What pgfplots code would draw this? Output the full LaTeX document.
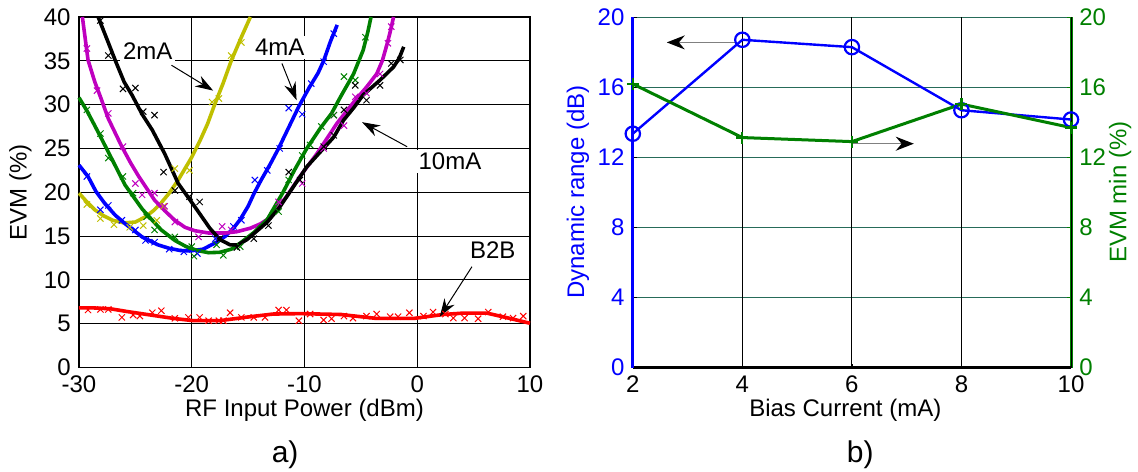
\documentclass[border=0pt]{standalone}
\usepackage{fontspec}
\setmainfont{Liberation Sans}
\usepackage{pgfplots}
\pgfplotsset{compat=1.18}
\usetikzlibrary{arrows.meta}
\definecolor{mgreen}{rgb}{0,0.5,0}
\definecolor{myellow}{rgb}{0.75,0.75,0}
\definecolor{mmag}{rgb}{0.75,0,0.75}
\definecolor{gridteal}{rgb}{0.15,0.42,0.35}
\begin{document}
\fontsize{12}{14}\selectfont
\begin{tikzpicture}
\path[use as bounding box] (0pt,0pt) rectangle (569pt,235.5pt);
% ---------------- a) ----------------
\begin{axis}[
  at={(39.5pt,51.75pt)}, anchor=south west,
  scale only axis, width=225.5pt, height=175.25pt,
  xmin=-30, xmax=10, ymin=0, ymax=40,
  xtick={-30,-20,...,10}, ytick={0,5,...,40},
  grid=major, major grid style={black, line width=0.5pt},
  axis line style={black, line width=0.7pt},
  tick align=inside, major tick length=0pt,
  /pgf/number format/assume math mode=true,
  tick label style={font=\fontsize{12}{14}\selectfont},
  label style={font=\fontsize{12}{14}\selectfont},
  xlabel={RF Input Power (dBm)}, ylabel={EVM (\%)},
  every axis x label/.style={at={(axis description cs:0.5,0)}, anchor=center, yshift=-21.5pt},
  every axis y label/.style={at={(axis description cs:-0.13,0.5)}, rotate=90, anchor=center},
  clip=false,
]
% 2mA yellow
\addplot[myellow, line width=1.8pt, line join=round] coordinates {
(-30,19.9) (-29.3,18.9) (-28.6,18.0) (-27.8,17.3) (-27,16.8) (-26,16.5) (-25,16.6) (-24.1,17.2) (-23.4,17.9) (-22.7,18.8) (-22,19.9) (-21.2,21.4) (-20.6,22.7) (-20,24.0) (-19.3,25.8) (-18.6,27.8) (-18,29.9) (-17.2,32.5) (-16.5,35.0) (-15.6,37.7) (-14.8,40)};
\addplot[myellow, only marks, mark=x, mark size=2.2pt, line width=0.5pt] coordinates {
(-29.3,18.6) (-28.1,17.0) (-26.9,16.3) (-25.5,16.0) (-24.3,16.2) (-23.1,16.8) (-22.5,18.4) (-21.5,22.7) (-20.2,22.5) (-18.2,30.3) (-17.6,30.7) (-16.5,35.6) (-15.6,37.1)};
% 4mA blue
\addplot[blue, line width=1.8pt, line join=round] coordinates {
(-30,23.1) (-29.2,21.8) (-28.5,20.1) (-27.7,18.7) (-26.8,17.4) (-25.9,16.4) (-25,15.5) (-24.4,14.9) (-23,14.0) (-22,13.6) (-21,13.35) (-20.2,13.3) (-19,13.5) (-17.8,14.3) (-17,15.0) (-16.3,15.9) (-15.7,16.9) (-15,18.4) (-14.5,19.8) (-13.8,21.5) (-13,23.3) (-12.3,25.0) (-11.4,27.4) (-10.5,29.8) (-9.6,31.9) (-8.8,33.6) (-8.3,35.0) (-7.7,37.2) (-7.1,39.1)};
\addplot[blue, only marks, mark=x, mark size=2.2pt, line width=0.5pt] coordinates {
(-29.3,21.8) (-28.1,18.0) (-27.4,18.5) (-26.2,16.8) (-25.0,15.7) (-24.1,14.5) (-23.3,14.3) (-22.0,13.5) (-20.7,13.2) (-19.5,13.0) (-17.9,14.7) (-16.3,16.1) (-15.6,16.8) (-14.4,21.4) (-13.3,22.5) (-12.2,25.0) (-11.4,29.6) (-10.2,28.9) (-9.4,32.4) (-8.3,34.9) (-7.4,38.1)};
% 8mA magenta
\addplot[mmag, line width=1.8pt, line join=round] coordinates {
(-29.7,40) (-29.2,35.1) (-28.6,32.6) (-28.1,30.9) (-27.4,28.4) (-26.2,25.2) (-25.4,23.3) (-24.7,21.8) (-23.3,19.1) (-22.4,17.9) (-21.5,16.8) (-20.6,16.0) (-19.7,15.6) (-18.5,15.35) (-17,15.35) (-16,15.5) (-14.8,15.9) (-13.9,16.4) (-13.3,16.9) (-12.5,18.0) (-11.6,19.5) (-10.4,21.8) (-8.9,24.4) (-7.1,27.9) (-5.5,30.5) (-4.5,32.0) (-3.6,33.5) (-3.1,35.0) (-2.7,36.8) (-2.4,38.3) (-2.1,40)};
\addplot[mmag, only marks, mark=x, mark size=2.2pt, line width=0.5pt] coordinates {
(-29.3,36.4) (-28.4,31.6) (-27.4,29.0) (-26.1,25.2) (-25.0,21.0) (-24.4,19.7) (-23.3,19.9) (-22.4,18.4) (-21.5,16.6) (-19.4,14.9) (-17.3,16.1) (-16.5,15.7) (-12.3,18.9) (-10.2,21.0) (-8.3,25.0) (-7.4,28.8) (-6.5,27.6) (-5.5,30.9) (-4.5,31.3) (-3.3,33.5) (-2.6,37.0) (-2.3,38.9)};
% 6mA green
\addplot[mgreen, line width=1.8pt, line join=round] coordinates {
(-30,30.8) (-29.3,29.3) (-28.6,27.6) (-27.4,24.6) (-26.5,22.3) (-25.9,20.8) (-24.9,19.0) (-24.4,18.1) (-23.5,16.8) (-22.7,15.7) (-21.5,14.5) (-20.5,13.8) (-19.5,13.35) (-18.5,13.1) (-17.5,13.15) (-16.5,13.5) (-15.7,14.2) (-14.5,15.4) (-13.3,16.9) (-11.9,20.0) (-10.9,22.5) (-9.8,25.0) (-8.6,27.3) (-7.6,29.0) (-6.8,30.9) (-5.65,33.5) (-4.8,36.2) (-4.4,38.2) (-4.1,40)};
\addplot[mgreen, only marks, mark=x, mark size=2.2pt, line width=0.5pt] coordinates {
(-29.3,29.4) (-28.1,26.7) (-27.4,23.9) (-26.1,21.8) (-25.2,19.9) (-24.0,17.2) (-23.3,15.7) (-21.5,14.9) (-20.0,13.8) (-19.8,12.7) (-17.8,14.0) (-17.2,12.8) (-15.7,13.8) (-12.3,17.8) (-11.4,21.4) (-10.2,24.2) (-9.5,25.4) (-8.5,27.5) (-7.4,28.8) (-6.5,33.2) (-5.5,32.8) (-4.6,37.7)};
% 10mA black
\addplot[black, line width=1.8pt, line join=round] coordinates {
(-28.3,40) (-27.5,37.4) (-26.8,35.1) (-26,32.6) (-25.3,31.1) (-24.4,28.9) (-23.5,27.1) (-22.4,24.4) (-21.2,21.0) (-19.7,18.3) (-18.4,15.9) (-17.5,14.6) (-16.6,14.0) (-15.9,14.0) (-15.1,14.6) (-14.2,15.6) (-13.3,16.6) (-12.2,18.3) (-11.0,20.6) (-9.8,22.9) (-8.6,24.6) (-7.4,26.3) (-6.55,28.2) (-5.6,29.7) (-4.8,31.1) (-3.3,32.8) (-2.1,34.3) (-1.6,35.3) (-1.2,36.6)};
\addplot[black, only marks, mark=x, mark size=2.2pt, line width=0.5pt] coordinates {
(-28.1,39.6) (-27.4,35.6) (-26.1,31.8) (-25.0,31.9) (-24.3,29.2) (-23.3,28.8) (-22.5,22.3) (-21.5,20.2) (-20.2,19.5) (-19.3,18.9) (-17.5,14.7) (-16.0,13.7) (-14.5,14.7) (-13.2,16.2) (-11.4,22.3) (-10.4,21.4) (-8.3,25.2) (-7.4,26.5) (-6.5,29.4) (-5.5,32.2) (-4.5,30.5) (-3.3,32.2) (-2.3,34.7) (-1.5,35.1)};
% B2B red
\addplot[red, line width=1.8pt, line join=round] coordinates {
(-30,6.8) (-28.7,6.8) (-27.2,6.7) (-25.8,6.4) (-23.7,6.0) (-21.6,5.6) (-19.9,5.35) (-17.5,5.35) (-15.1,5.75) (-12.8,6.1) (-10.4,6.15) (-6.8,6.05) (-3.6,5.6) (-0.3,5.6) (2.3,6.05) (4,6.2) (6.2,6.2) (7.9,5.7) (10,5.05)};
\addplot[red, only marks, mark=x, mark size=2.2pt, line width=0.5pt] coordinates {
(-29.2,6.56) (-28.1,6.63) (-27.4,6.63) (-26.2,5.72) (-25.2,5.99) (-24.6,5.87) (-23.5,6.25) (-22.7,6.48) (-21.5,5.61) (-20.3,5.72) (-19.3,5.72) (-18.5,5.34) (-17.6,5.34) (-17.2,5.34) (-16.6,6.25) (-15.6,5.72) (-14.5,5.72) (-13.5,5.72) (-12.3,6.56) (-11.6,6.56) (-10.5,5.34) (-9.5,6.10) (-8.3,5.42) (-7.6,5.57) (-6.5,5.87) (-5.7,5.64) (-4.5,5.87) (-3.6,6.10) (-2.4,5.80) (-1.7,5.80) (-0.7,6.25) (0.55,5.87) (1.4,6.33) (2.5,6.10) (3.2,5.64) (4.2,5.64) (5.4,5.57) (6.3,6.33) (7.6,5.80) (8.5,5.64) (9.4,5.87)};
% annotations
\draw[black, line width=0.5pt, -{Stealth[length=9pt,width=6pt]}] (axis cs:-21.8,34.5) -- (axis cs:-18.1,31.6);
\node[fill=white, inner sep=1.5pt, font=\fontsize{12}{14}\selectfont] at (axis cs:-23.9,36.1) {2mA};
\draw[black, line width=0.5pt, -{Stealth[length=9pt,width=6pt]}] (axis cs:-12.0,34.7) -- (axis cs:-10.7,30.5);
\node[fill=white, inner sep=1.5pt, font=\fontsize{12}{14}\selectfont] at (axis cs:-12.2,36.5) {4mA};
\draw[black, line width=0.5pt, -{Stealth[length=9pt,width=6pt]}] (axis cs:-0.9,25.2) -- (axis cs:-4.9,28.0);
\node[fill=white, inner sep=1.5pt, font=\fontsize{12}{14}\selectfont] at (axis cs:2.9,23.5) {10mA};
\draw[black, line width=0.5pt, -{Stealth[length=9pt,width=6pt]}] (axis cs:4.85,11.5) -- (axis cs:2.0,5.8);
\node[fill=white, inner sep=1.5pt, font=\fontsize{12}{14}\selectfont] at (axis cs:6.7,13.4) {B2B};
\node[font=\fontsize{15}{17}\selectfont] at (axis description cs:0.457,-0.25) {a)};
\end{axis}
% ---------------- b) right axis (EVM min) ----------------
\begin{axis}[
  at={(316.4pt,51.75pt)}, anchor=south west,
  scale only axis, width=219.1pt, height=175.25pt,
  xmin=2, xmax=10, ymin=0, ymax=20,
  axis x line=none, axis y line*=right,
  y axis line style={-, mgreen, line width=1.5pt},
  ytick={0,4,...,20},
  yticklabel style={mgreen},
  ymajorgrids, major grid style={gridteal, line width=0.5pt},
  tick align=inside, major tick length=2pt, tick style={mgreen},
  /pgf/number format/assume math mode=true,
  tick label style={font=\fontsize{12}{14}\selectfont},
  label style={font=\fontsize{12}{14}\selectfont},
  ylabel={EVM min (\%)},
  every axis y label/.style={at={(axis description cs:1.112,0.5)}, rotate=90, anchor=center, text=mgreen},
]
\addplot[draw=none] coordinates {(2,0) (10,20)};
\end{axis}
% ---------------- b) left axis (Dynamic range) ----------------
\begin{axis}[
  at={(316.4pt,51.75pt)}, anchor=south west,
  scale only axis, width=219.1pt, height=175.25pt,
  xmin=2, xmax=10, ymin=0, ymax=20,
  axis x line*=bottom, axis y line*=left,
  x axis line style={-, black, line width=1.5pt},
  y axis line style={-, blue, line width=1.5pt},
  xtick={2,4,...,10}, ytick={0,4,...,20},
  yticklabel style={blue},
  xmajorgrids, major grid style={black, line width=0.5pt},
  tick align=inside, major tick length=2pt, tick style={black},
  /pgf/number format/assume math mode=true,
  tick label style={font=\fontsize{12}{14}\selectfont},
  label style={font=\fontsize{12}{14}\selectfont},
  xlabel={Bias Current (mA)}, ylabel={Dynamic range (dB)},
  every axis x label/.style={at={(axis description cs:0.485,0)}, anchor=center, yshift=-21.5pt},
  every axis y label/.style={at={(axis description cs:-0.125,0.5)}, rotate=90, anchor=center, text=blue},
  clip=false,
]
\addplot[blue, line width=1.2pt, mark=o, mark size=3.6pt, mark options={line width=1.1pt}] coordinates {
(2,13.34) (4,18.7) (6,18.28) (8,14.68) (10,14.15)};
\addplot[mgreen, line width=1.5pt, mark=+, mark size=3pt, mark options={line width=1.1pt}] coordinates {
(2,16.18) (4,13.12) (6,12.89) (8,15.03) (10,13.69)};
\draw[gray, line width=0.7pt, -{Stealth[length=9pt,width=7pt,black]}] (axis cs:3.9,18.55) -- (axis cs:2.62,18.55);
\draw[gray, line width=0.7pt, -{Stealth[length=9pt,width=7pt,black]}] (axis cs:6.0,12.77) -- (axis cs:7.13,12.77);
\node[font=\fontsize{15}{17}\selectfont] at (axis description cs:0.519,-0.25) {b)};
\end{axis}
\end{tikzpicture}
\end{document}
